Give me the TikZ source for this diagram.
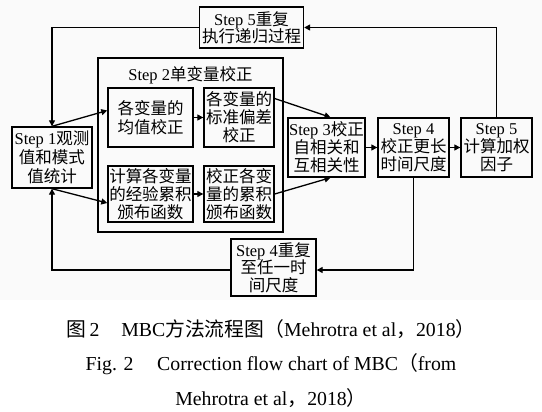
\documentclass[tikz,border=0pt]{standalone}
\usepackage{fontspec}
\setmainfont{Liberation Serif}
\newfontfamily\cjk{Noto Sans CJK SC}
\newcommand{\zh}[1]{{\cjk #1}}
\usetikzlibrary{arrows.meta,calc}
\begin{document}
\begin{tikzpicture}[x=1pt,y=-1pt,
  box/.style={draw,line width=1.4pt,inner sep=0pt,align=center,
    font=\fontsize{16.5}{19}\selectfont},
  conn/.style={line width=1.3pt,-{Triangle[length=6pt,width=6pt]}},
  captext/.style={inner sep=0pt,font=\fontsize{19.8}{22}\selectfont}]
\useasboundingbox (0,0) rectangle (542,412);
\fill[black!2] (0,0) rectangle (542,300);
% outer container
\node[draw,line width=1.4pt,minimum width=185pt,minimum height=174pt,inner sep=0pt] (s2) at (190.5,145) {};
\node[inner sep=0pt,font=\fontsize{16.5}{19}\selectfont] (s2t) at (190.5,75) {Step 2\zh{单变量校正}};
% boxes
\node[box,minimum width=104pt,minimum height=41pt,font=\fontsize{16.5}{16}\selectfont] (s5r) at (251.5,27.5) {Step 5\zh{重复}\\[-1pt]\zh{执行递归过程}};
\node[box,minimum width=80pt,minimum height=61pt] (s1) at (52,157.5) {Step 1\zh{观测}\\\zh{值和模式}\\\zh{值统计}};
\node[box,minimum width=85pt,minimum height=59pt] (m1) at (150.5,117.5) {\zh{各变量的}\\\zh{均值校正}};
\node[box,minimum width=70pt,minimum height=59pt,font=\fontsize{16.5}{18}\selectfont] (m2) at (239,117.5) {\zh{各变量的}\\\zh{标准偏差}\\\zh{校正}};
\node[box,minimum width=85pt,minimum height=56pt,font=\fontsize{16.5}{18}\selectfont] (c1) at (150.5,194) {\zh{计算各变量}\\\zh{的经验累积}\\\zh{颁布函数}};
\node[box,minimum width=70pt,minimum height=56pt,font=\fontsize{16.5}{18}\selectfont] (c2) at (239,194) {\zh{校正各变}\\\zh{量的累积}\\\zh{颁布函数}};
\node[box,minimum width=77pt,minimum height=59pt,font=\fontsize{16.5}{18}\selectfont] (s3) at (326.5,147.5) {Step 3\zh{校正}\\\zh{自相关和}\\\zh{互相关性}};
\node[box,minimum width=71pt,minimum height=59pt,font=\fontsize{16.5}{18}\selectfont] (s4) at (413.5,147.5) {Step 4\\\zh{校正更长}\\\zh{时间尺度}};
\node[box,minimum width=71pt,minimum height=59pt,font=\fontsize{16.5}{18}\selectfont] (s5) at (496.5,147.5) {Step 5\\\zh{计算加权}\\\zh{因子}};
\node[box,minimum width=85pt,minimum height=57pt,font=\fontsize{16.5}{17.5}\selectfont] (s4r) at (273.5,267.5) {Step 4\zh{重复}\\\zh{至任一时}\\\zh{间尺度}};
% connectors
\draw[conn] (s5.north) |- (s5r.east);
\draw[conn] (s5r.west) -| (s1.north);
\draw[conn] (s1.north) -- ($(m1.west)+(0,-7)$);
\draw[conn] (s1.south) -- ($(c1.west)+(0,9)$);
\draw[conn] (m1.east) -- (m2.west);
\draw[conn] (c1.east) -- (c2.west);
\draw[conn] ($(m2.east)+(0,-19)$) -- ($(s3.north)+(4,0)$);
\draw[conn] (c2.east) -- ($(s3.south)+(4,0)$);
\draw[conn] (s3.east) -- (s4.west);
\draw[conn] (s4.east) -- (s5.west);
\draw[conn] (s4.south) |- ($(s4r.east)+(0,2.5)$);
\draw[conn] ($(s4r.west)+(0,2.5)$) -| (s1.south);
% caption
\node[captext] (cap1) at (271,329) {\zh{图}\,2\hspace{1.1em}MBC\zh{方法流程图（}Mehrotra et al\zh{，}2018\zh{）}};
\node[captext] (cap2) at (271,364) {Fig. 2\hspace{1.2em}Correction flow chart of MBC\zh{（}from};
\node[captext] (cap3) at (271,398) {Mehrotra et al\zh{，}2018\zh{）}};
\end{tikzpicture}
\end{document}
